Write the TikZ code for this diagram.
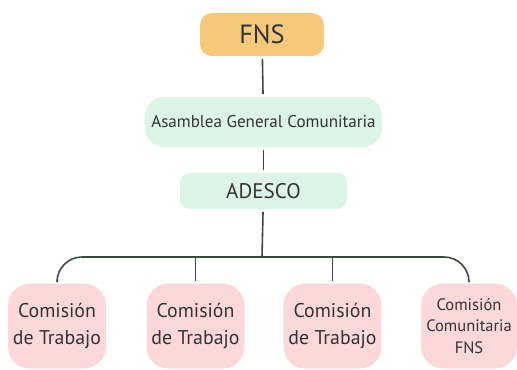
\documentclass[tikz,border=0pt]{standalone}
\usepackage{fontspec}
\setmainfont{PT Sans}
\usetikzlibrary{positioning}
\definecolor{fnsorange}{HTML}{F6C97A}
\definecolor{asgreen}{HTML}{DDF5E4}
\definecolor{compink}{HTML}{FDD8D9}
\definecolor{linegreen}{HTML}{3B4A3A}
\definecolor{txtgray}{HTML}{333333}
\begin{document}
\begin{tikzpicture}[x=0.02cm,y=-0.02cm,thick]
    \tikzstyle{boxA}=[rectangle, text=txtgray, align=center, inner sep=0pt]
    \tikzstyle{topbox}=[boxA, fill=fnsorange, rounded corners=0.24cm, minimum width=2.48cm, minimum height=0.86cm, font=\fontsize{15}{18}\selectfont]
    \tikzstyle{greenbox}=[boxA, fill=asgreen, rounded corners=0.38cm]
    \tikzstyle{combox}=[boxA, fill=compink, rounded corners=0.44cm, minimum width=1.96cm, minimum height=1.7cm, font=\fontsize{11.3}{15.3}\selectfont]
    \tikzstyle{link}=[draw=linegreen, line width=0.9pt, shorten <=1.2pt, shorten >=1.2pt]
    \useasboundingbox (0,0) rectangle (517,369);
    \node[topbox] (fns) at (262,34.5) {FNS};
    \node[greenbox, minimum width=4.74cm, minimum height=1cm, font=\fontsize{9.7}{12}\selectfont] (asamblea) at (263.5,122) {Asamblea General Comunitaria};
    \node[greenbox, rounded corners=0.2cm, minimum width=3.34cm, minimum height=0.72cm, font=\fontsize{12}{14}\selectfont] (adesco) at (263.5,191) {ADESCO};
    \node[combox] (com1) at (57,326) {Comisión\\de Trabajo};
    \node[combox] (com2) at (195.5,326) {Comisión\\de Trabajo};
    \node[combox] (com3) at (332.5,326) {Comisión\\de Trabajo};
    \node[combox, minimum width=1.92cm, font=\fontsize{9.4}{12.3}\selectfont] (com4) at (469,326) {Comisión\\Comunitaria\\FNS};
    \coordinate (bus) at (262,257);
    \draw[link] (fns) -- (asamblea);
    \draw[link] (asamblea) -- (adesco);
    \draw[link, shorten >=0pt] (adesco) -- (bus);
    \draw[link, rounded corners=0.5cm] (com1.north) -- (com1.north |- bus) -- (com4.north |- bus) -- (com4.north);
    \draw[link, shorten <=0pt] (com2.north |- bus) -- (com2.north);
    \draw[link, shorten <=0pt] (com3.north |- bus) -- (com3.north);
\end{tikzpicture}
\end{document}
